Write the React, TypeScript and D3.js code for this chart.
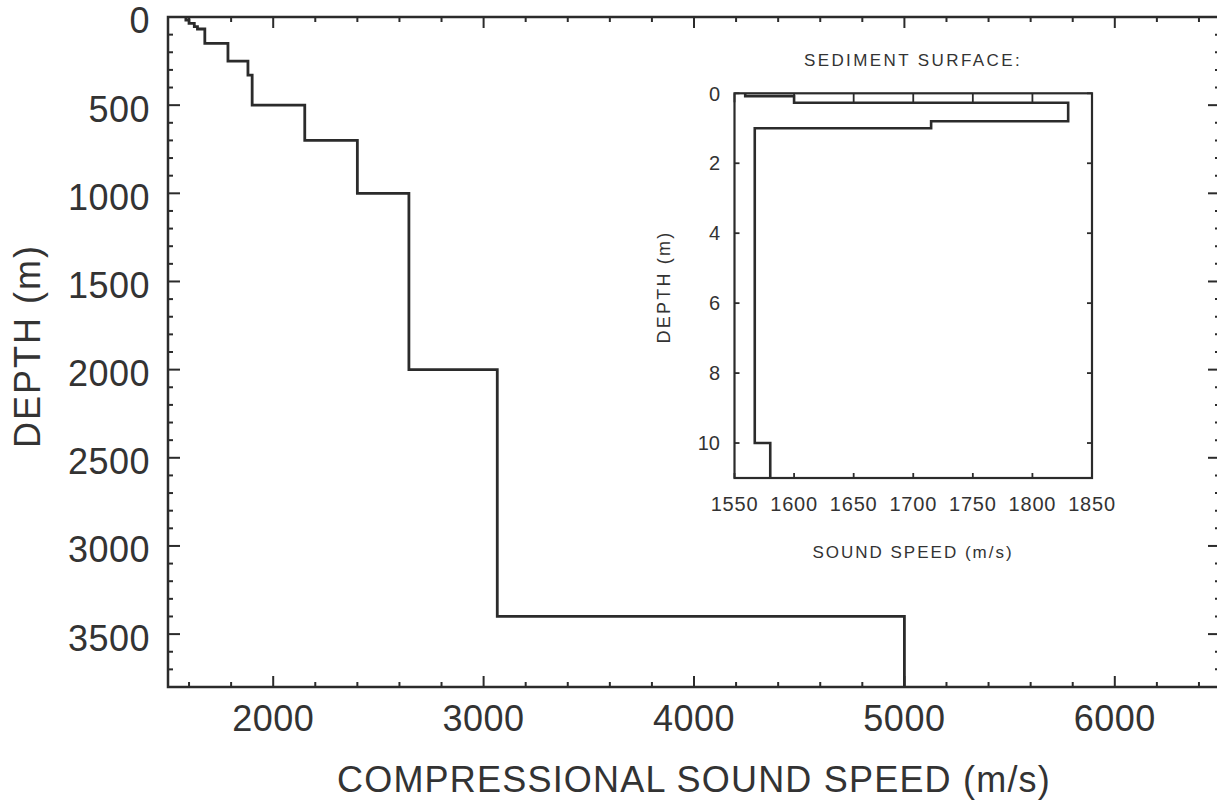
import React from "react";
import * as d3 from "d3";

// ---- Data ----
// Main profile: layer top depths (m) and compressional speed (m/s) in each layer
const mainLayerTops = [0, 17, 36, 55, 68, 150, 250, 330, 500, 700, 1000, 2000, 3400];
const mainLayerSpeeds = [1585, 1600, 1625, 1640, 1675, 1785, 1880, 1900, 2150, 2400, 2645, 3065, 5000];
const mainBottomDepth = 3800;

// Inset (sediment surface) profile
const insetLayerTops = [0, 0.08, 0.27, 0.8, 1.0, 10];
const insetLayerSpeeds = [1559, 1600, 1830, 1715, 1567, 1580];
const insetBottomDepth = 11;

// Tick labels
const mainXTicks = [2000, 3000, 4000, 5000, 6000];
const mainYTicks = [0, 500, 1000, 1500, 2000, 2500, 3000, 3500];
const insetXTicks = [1550, 1600, 1650, 1700, 1750, 1800, 1850];
const insetYTicks = [0, 2, 4, 6, 8, 10];

const INK = "#2b2b2b";
const TXT = "#333";
const FONT = "'Liberation Sans', Arial, Helvetica, sans-serif";

function buildPoints(tops: number[], speeds: number[], bottom: number): [number, number][] {
  const pts: [number, number][] = [];
  tops.forEach((t, i) => {
    const b = i + 1 < tops.length ? tops[i + 1] : bottom;
    pts.push([speeds[i], t]);
    pts.push([speeds[i], b]);
  });
  return pts;
}

export default function App() {
  // Main scales
  const mL = 168, mR = 1220, mT = 17, mB = 687;
  const x = d3.scaleLinear().domain([1500, 6500]).range([mL, mR]);
  const y = d3.scaleLinear().domain([0, mainBottomDepth]).range([mT, mB]);

  // Inset scales
  const iL = 734.5, iR = 1092, iT = 93.3, iB = 478;
  const ix = d3.scaleLinear().domain([1550, 1850]).range([iL, iR]);
  const iy = d3.scaleLinear().domain([0, insetBottomDepth]).range([iT, iB]);

  const mainLine = d3
    .line<[number, number]>()
    .x((d) => x(d[0]))
    .y((d) => y(d[1]));
  const insetLine = d3
    .line<[number, number]>()
    .x((d) => ix(d[0]))
    .y((d) => iy(d[1]));

  const mainPts = buildPoints(mainLayerTops, mainLayerSpeeds, mainBottomDepth);
  const insetPts = buildPoints(insetLayerTops, insetLayerSpeeds, insetBottomDepth);

  const xMinor = d3.range(1600, 6500, 200).filter((v) => v % 1000 !== 0);
  const yMinor = d3.range(100, mainBottomDepth, 100).filter((v) => v % 500 !== 0);

  return (
    <svg
      width={1217}
      height={801}
      style={{ position: "absolute", left: 0, top: 0, background: "#fff" }}
      fontFamily={FONT}
    >
      <rect x={0} y={0} width={1217} height={801} fill="#fff" />
      {/* Main frame */}
      <rect x={mL} y={mT} width={mR - mL} height={mB - mT} fill="none" stroke={INK} strokeWidth={2.5} />

      {/* Main x ticks (bottom and top) */}
      {mainXTicks.map((v) => (
        <g key={"mx" + v}>
          <line x1={x(v)} x2={x(v)} y1={mB} y2={mB - 11} stroke={INK} strokeWidth={2} />
          <line x1={x(v)} x2={x(v)} y1={mT} y2={mT + 11} stroke={INK} strokeWidth={2} />
          <text x={x(v)} y={731} textAnchor="middle" fontSize={36} fill={TXT} letterSpacing={0.5}>
            {v}
          </text>
        </g>
      ))}
      {xMinor.map((v) => (
        <g key={"mxm" + v}>
          <line x1={x(v)} x2={x(v)} y1={mB} y2={mB - 5} stroke={INK} strokeWidth={2} />
          <line x1={x(v)} x2={x(v)} y1={mT} y2={mT + 5} stroke={INK} strokeWidth={2} />
        </g>
      ))}

      {/* Main y ticks (left and right) */}
      {mainYTicks.map((v) => (
        <g key={"my" + v}>
          <line x1={mL} x2={mL + 12} y1={y(v)} y2={y(v)} stroke={INK} strokeWidth={2} />
          <line x1={mR} x2={mR - 12} y1={y(v)} y2={y(v)} stroke={INK} strokeWidth={2} />
          <text x={150} y={y(v) + 3.5} dy="0.36em" textAnchor="end" fontSize={36} fill={TXT} letterSpacing={0.5}>
            {v}
          </text>
        </g>
      ))}
      {yMinor.map((v) => (
        <g key={"mym" + v}>
          <line x1={mL} x2={mL + 5} y1={y(v)} y2={y(v)} stroke={INK} strokeWidth={2} />
          <line x1={mR} x2={mR - 5} y1={y(v)} y2={y(v)} stroke={INK} strokeWidth={2} />
        </g>
      ))}

      {/* Main axis labels */}
      <text
        x={694}
        y={792}
        textAnchor="middle"
        fontSize={36}
        fill={TXT}
        letterSpacing={1.2}
      >
        COMPRESSIONAL SOUND SPEED (m/s)
      </text>
      <text
        transform={`translate(40,346) rotate(-90)`}
        textAnchor="middle"
        fontSize={36}
        fill={TXT}
        letterSpacing={2}
      >
        DEPTH (m)
      </text>

      {/* Main profile */}
      <path d={mainLine(mainPts) || ""} fill="none" stroke={INK} strokeWidth={2.8} strokeLinejoin="miter" />

      {/* Inset */}
      <text x={913} y={66} textAnchor="middle" fontSize={17} fill={TXT} letterSpacing={2.4}>
        SEDIMENT SURFACE:
      </text>
      <rect x={iL} y={iT} width={iR - iL} height={iB - iT} fill="#fff" stroke={INK} strokeWidth={2.2} />
      {insetXTicks.map((v) => (
        <g key={"ix" + v}>
          <line x1={ix(v)} x2={ix(v)} y1={iB} y2={iB - 5} stroke={INK} strokeWidth={1.8} />
          <line x1={ix(v)} x2={ix(v)} y1={iT} y2={iT + 9} stroke={INK} strokeWidth={1.8} />
          <text x={ix(v)} y={511} textAnchor="middle" fontSize={20} fill={TXT} letterSpacing={0.8}>
            {v}
          </text>
        </g>
      ))}
      {insetYTicks.map((v) => (
        <g key={"iy" + v}>
          <line x1={iL} x2={iL + 5} y1={iy(v)} y2={iy(v)} stroke={INK} strokeWidth={1.8} />
          <line x1={iR} x2={iR - 5} y1={iy(v)} y2={iy(v)} stroke={INK} strokeWidth={1.8} />
          <text x={720} y={iy(v)} dy="0.36em" textAnchor="end" fontSize={20} fill={TXT}>
            {v}
          </text>
        </g>
      ))}
      <text x={913} y={558} textAnchor="middle" fontSize={17} fill={TXT} letterSpacing={2}>
        SOUND SPEED (m/s)
      </text>
      <text
        transform={`translate(670,287) rotate(-90)`}
        textAnchor="middle"
        fontSize={18}
        fill={TXT}
        letterSpacing={2.2}
      >
        DEPTH (m)
      </text>
      <path d={insetLine(insetPts) || ""} fill="none" stroke={INK} strokeWidth={2.6} />
    </svg>
  );
}
